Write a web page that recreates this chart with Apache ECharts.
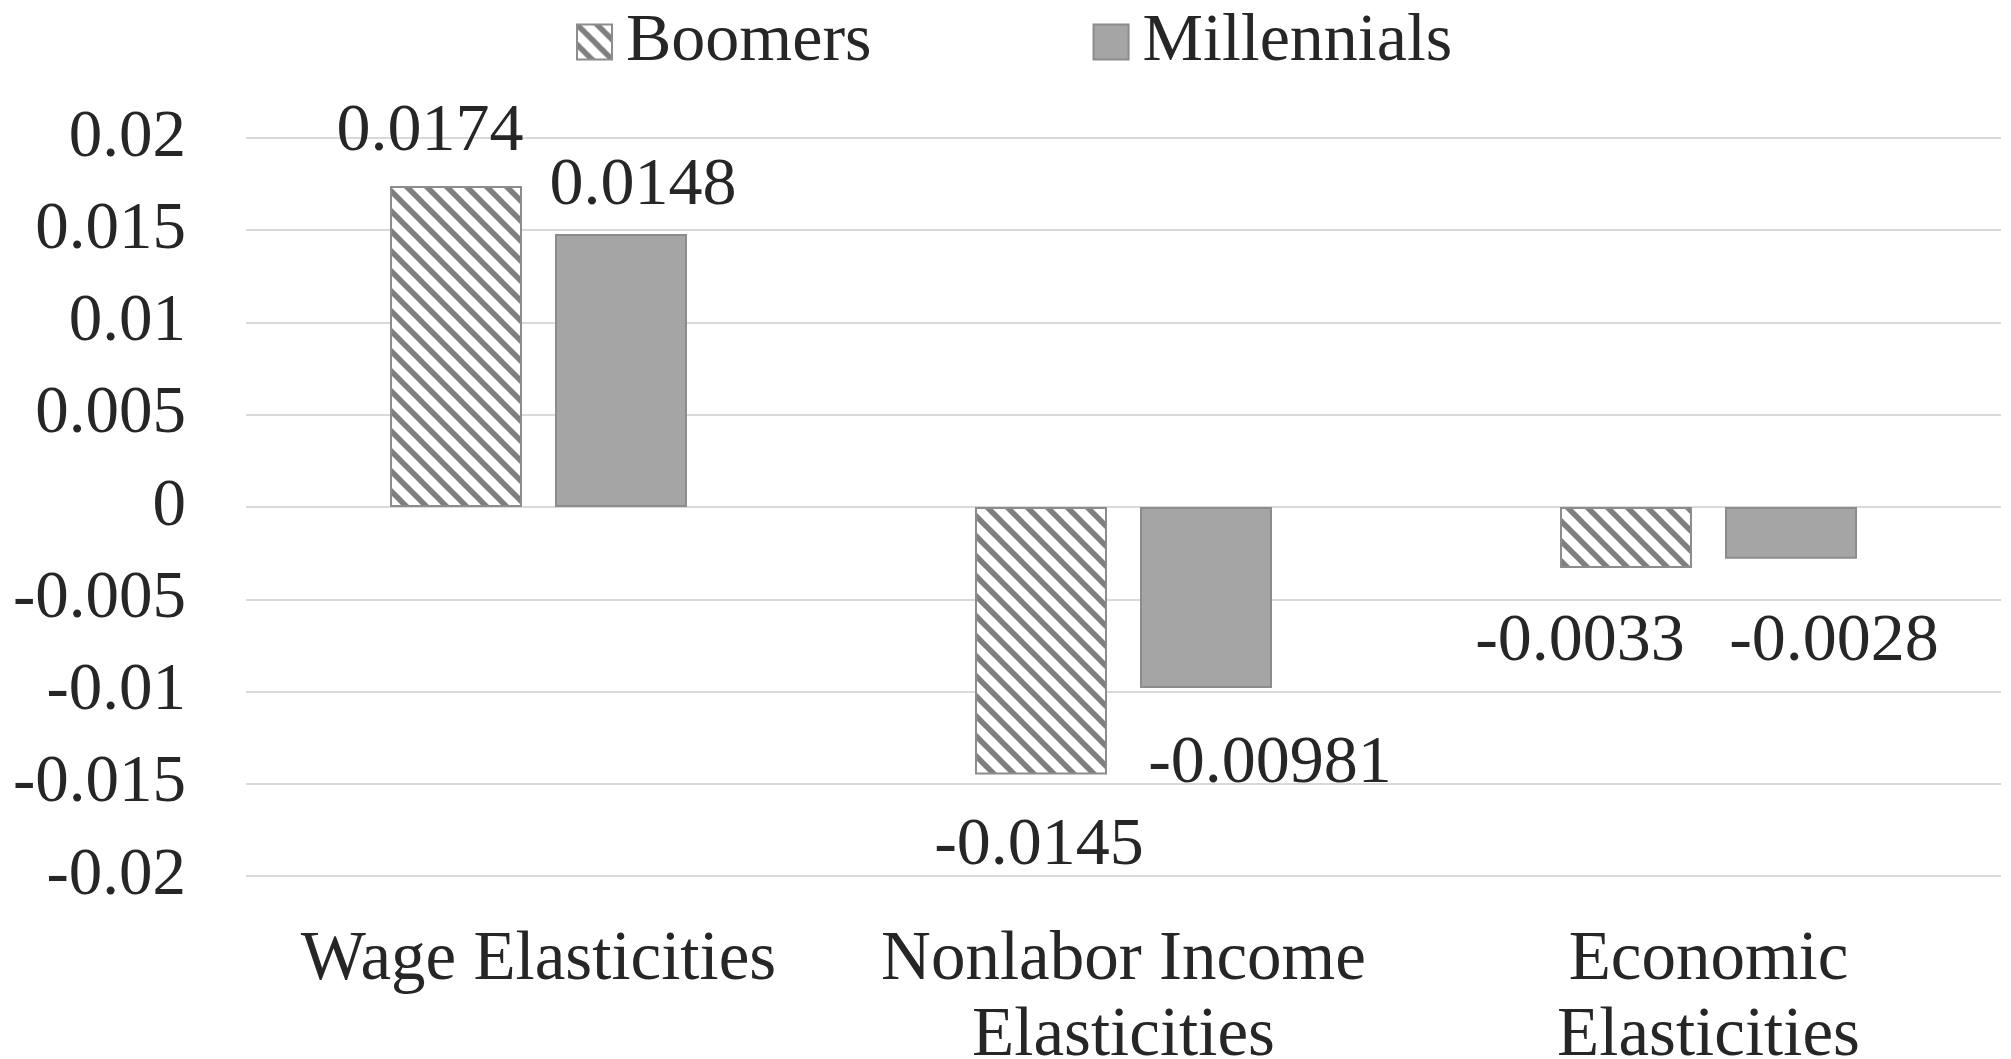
<!DOCTYPE html>
<html>
<head>
<meta charset="utf-8">
<script src="https://cdn.jsdelivr.net/npm/echarts@6/dist/echarts.min.js"></script>
<style>
html,body{margin:0;padding:0;background:#ffffff;}
#chart{width:2011px;height:1059px;}
</style>
</head>
<body>
<div id="chart"></div>
<script>
const categories = ['Wage Elasticities', 'Nonlabor Income Elasticities', 'Economic Elasticities'];
const seriesNames = ['Boomers', 'Millennials'];
const boomers = [0.0174, -0.0145, -0.0033];
const millennials = [0.0148, -0.00981, -0.0028];
const yMin = -0.02, yMax = 0.02, yStep = 0.005;

// label nudges (style only, not data)
const boomerLabelShift = [[-26, -20], [-2, 38], [-46, 40]];
const millLabelShift = [[22, -14], [64, 42], [43, 49]];

const FONT = "'Liberation Serif', 'Times New Roman', serif";
const TXT = '#262626';

function makeHatch() {
  const c = document.createElement('canvas');
  c.width = 20; c.height = 20;
  const g = c.getContext('2d');
  g.fillStyle = '#ffffff';
  g.fillRect(0, 0, 20, 20);
  g.strokeStyle = '#7f7f7f';
  g.lineWidth = 5.5;
  for (let k = -1; k <= 1; k++) {
    g.beginPath();
    g.moveTo(k * 20 - 4, -4);
    g.lineTo(k * 20 + 24, 24);
    g.stroke();
  }
  return c;
}
const hatch = { image: makeHatch(), repeat: 'repeat' };

function build(values, shifts) {
  return values.map((v, i) => ({
    value: v,
    label: { offset: shifts[i] }
  }));
}

// wrap long category names before their last word (like the original)
function wrapCategory(v) {
  if (v.length <= 18) return v;
  const i = v.lastIndexOf(' ');
  return v.slice(0, i) + '\n' + v.slice(i + 1);
}

const labelBase = {
  show: true,
  position: 'outside',
  distance: 0,
  fontSize: 68,
  lineHeight: 68,
  fontFamily: FONT,
  color: TXT
};

const chart = echarts.init(document.getElementById('chart'), null, { renderer: 'canvas' });
chart.setOption({
  backgroundColor: '#ffffff',
  animation: false,
  legend: {
    data: seriesNames,
    left: 571,
    top: 3,
    icon: 'rect',
    itemWidth: 35,
    itemHeight: 35,
    itemGap: 221,
    textStyle: { fontSize: 68, fontFamily: FONT, color: TXT, padding: [0, 0, 0, 9] }
  },
  grid: { left: 246, right: 10, top: 138, bottom: 183, containLabel: false, outerBoundsMode: 'none' },
  xAxis: {
    type: 'category',
    data: categories,
    position: 'bottom',
    axisLine: { show: false, onZero: false },
    axisTick: { show: false },
    axisLabel: {
      fontSize: 69, fontFamily: FONT, color: TXT,
      lineHeight: 76, margin: 47, interval: 0,
      formatter: wrapCategory
    }
  },
  yAxis: {
    type: 'value',
    min: yMin, max: yMax, interval: yStep,
    axisLine: { show: false },
    axisTick: { show: false },
    axisLabel: { fontSize: 67, fontFamily: FONT, color: TXT, margin: 60 },
    splitLine: { lineStyle: { color: '#d9d9d9', width: 2 } }
  },
  series: [
    {
      name: seriesNames[0], type: 'bar',
      data: build(boomers, boomerLabelShift),
      barWidth: 132, barGap: '25%',
      itemStyle: { color: hatch, borderColor: '#8c8c8c', borderWidth: 2 },
      label: labelBase
    },
    {
      name: seriesNames[1], type: 'bar',
      data: build(millennials, millLabelShift),
      barWidth: 132, barGap: '25%',
      itemStyle: { color: '#a5a5a5', borderColor: '#8c8c8c', borderWidth: 2 },
      label: labelBase
    }
  ]
});
</script>
</body>
</html>
